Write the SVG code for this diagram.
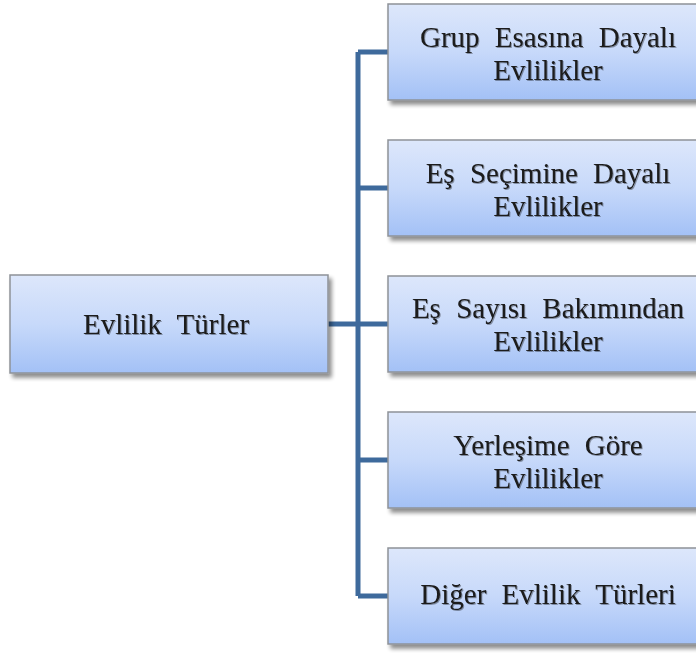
<svg xmlns="http://www.w3.org/2000/svg" width="696" height="653" viewBox="0 0 696 653">
<defs>
<linearGradient id="g" x1="0" y1="0" x2="0" y2="1">
<stop offset="0" stop-color="#DDE7FB"/>
<stop offset="0.5" stop-color="#C7D9FA"/>
<stop offset="1" stop-color="#A3C1F6"/>
</linearGradient>
<filter id="sh" x="-10%" y="-10%" width="130%" height="140%">
<feGaussianBlur in="SourceAlpha" stdDeviation="2"/>
<feOffset dx="3" dy="4" result="o"/>
<feComponentTransfer><feFuncA type="linear" slope="0.45"/></feComponentTransfer>
<feMerge><feMergeNode/><feMergeNode in="SourceGraphic"/></feMerge>
</filter>
<filter id="ts" x="-5%" y="-20%" width="110%" height="140%">
<feOffset in="SourceAlpha" dx="1" dy="1"/>
<feGaussianBlur stdDeviation="0.6"/>
<feComponentTransfer><feFuncA type="linear" slope="0.35"/></feComponentTransfer>
<feMerge><feMergeNode/><feMergeNode in="SourceGraphic"/></feMerge>
</filter>
</defs>
<style>
.box{fill:url(#g);stroke:#8E9298;stroke-width:1.5;filter:url(#sh)}
.t{font-family:"Liberation Serif","Times New Roman",serif;font-size:29px;fill:#1A1A1A;text-anchor:middle;word-spacing:8px;filter:url(#ts)}
.c{fill:none;stroke:#3E6A9C;stroke-width:5}
</style>
<rect width="696" height="653" fill="#fff"/>
<g id="connectors">
<path class="c" d="M358 52V596M328 324H388M358 52H388M358 188H388M358 460H388M358 596H388"/>
</g>
<g id="root">
<rect class="box" x="10" y="275" width="318" height="98"/>
<text class="t" x="166" y="334">Evlilik Türler</text>
</g>
<g id="n1">
<rect class="box" x="388" y="4" width="320" height="96"/>
<text class="t" x="548" y="47">Grup Esasına Dayalı</text>
<text class="t" x="548" y="80">Evlilikler</text>
</g>
<g id="n2">
<rect class="box" x="388" y="140" width="320" height="96"/>
<text class="t" x="548" y="183">Eş Seçimine Dayalı</text>
<text class="t" x="548" y="216">Evlilikler</text>
</g>
<g id="n3">
<rect class="box" x="388" y="276" width="320" height="96"/>
<text class="t" x="548" y="318">Eş Sayısı Bakımından</text>
<text class="t" x="548" y="351">Evlilikler</text>
</g>
<g id="n4">
<rect class="box" x="388" y="412" width="320" height="96"/>
<text class="t" x="548" y="455">Yerleşime Göre</text>
<text class="t" x="548" y="488">Evlilikler</text>
</g>
<g id="n5">
<rect class="box" x="388" y="548" width="320" height="96"/>
<text class="t" x="548" y="604">Diğer Evlilik Türleri</text>
</g>
</svg>
